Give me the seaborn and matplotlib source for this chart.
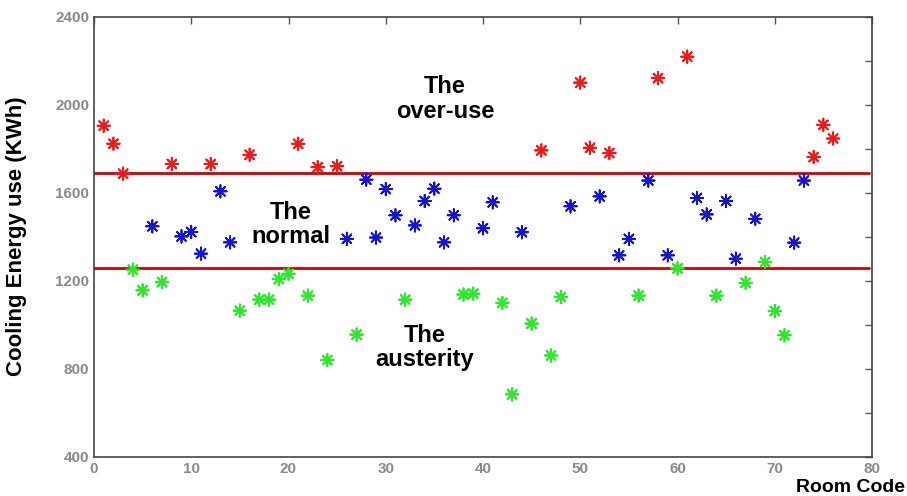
import matplotlib
matplotlib.use("Agg")
import matplotlib.pyplot as plt
import seaborn as sns
import pandas as pd

# ---- data -------------------------------------------------------------
room_code = list(range(1, 77))
energy_kwh = [1904, 1822, 1686, 1250, 1156, 1447, 1193, 1730, 1401, 1421,
              1323, 1730, 1606, 1374, 1064, 1772, 1114, 1114, 1207, 1231,
              1822, 1132, 1716, 839, 1720, 1390, 955, 1659, 1396, 1616,
              1497, 1114, 1451, 1562, 1618, 1374, 1497, 1137, 1141, 1438,
              1556, 1099, 683, 1420, 1005, 1792, 860, 1126, 1538, 2100,
              1804, 1583, 1780, 1315, 1390, 1132, 1655, 2120, 1315, 1256,
              2218, 1576, 1501, 1132, 1562, 1300, 1190, 1481, 1285, 1062,
              952, 1373, 1655, 1762, 1908, 1846]
# group of each room as coloured in the chart: O = over-use, N = normal, A = austerity
room_group = list("OOOAANAONNNONNAOAAAAOAOAONANNNNANNNNNAANNAANAOAANOONONNANONAONNANNANAAANNOOO")
upper_threshold = 1689
lower_threshold = 1256
group_labels = ["The\nover-use", "The\nnormal", "The\nausterity"]
x_ticks = [0, 10, 20, 30, 40, 50, 60, 70, 80]
y_ticks = list(range(400, 2401, 200))

df = pd.DataFrame({"room": room_code, "energy": energy_kwh, "group": room_group})

palette = {"O": "#ff1414", "N": "#1212e6", "A": "#22ee22"}

# ---- figure -------------------------------------------------------------
sns.set_style("white")
plt.rcParams["font.family"] = ["Liberation Sans", "DejaVu Sans"]
plt.rcParams["text.color"] = "black"

fig = plt.figure(figsize=(9.07, 4.96), dpi=100)
ax = fig.add_axes([94 / 907, 1 - 456.7 / 496, 778 / 907, 440.1 / 496])

sns.scatterplot(data=df, x="room", y="energy", hue="group", palette=palette,
                marker=(8, 2, 0), s=80, linewidth=1.3, legend=False, ax=ax,
                zorder=3)

ax.axhline(upper_threshold, xmin=0, xmax=0.996, color="#d40000", lw=2.0, zorder=2)
ax.axhline(lower_threshold, xmin=0, xmax=0.996, color="#d40000", lw=2.0, zorder=2)

ax.set_xlim(0, 80)
ax.set_ylim(400, 2400)
ax.set_xticks(x_ticks)
ax.set_xticklabels([str(t) for t in x_ticks])
ax.set_yticks(y_ticks)
ax.set_yticklabels([str(t) if t % 400 == 0 else "" for t in y_ticks])

ax.tick_params(axis="both", direction="in", length=5, width=1, colors="#555555",
               labelcolor="#8a8a8a", labelsize=11, top=True, right=True)
for lab in ax.get_xticklabels() + ax.get_yticklabels():
    lab.set_fontweight("bold")

for side in ["left", "bottom", "top", "right"]:
    ax.spines[side].set_visible(True)
    ax.spines[side].set_color("#444444")
    ax.spines[side].set_linewidth(1.2)

ax.set_xlabel("Room Code", fontsize=14, fontweight="bold", color="black",
              ha="right", va="center")
ax.xaxis.set_label_coords(1.042, -0.069)
ax.set_ylabel("Cooling Energy use (KWh)", fontsize=16, fontweight="bold",
              color="black", va="center")
ax.yaxis.set_label_coords(-0.099, 0.5)

txt_kw = dict(fontsize=17, fontweight="bold", ha="center", va="center",
              linespacing=1.1, zorder=4, color="black")
ax.text(36.1, 2026, group_labels[0], **txt_kw)
ax.text(20.2, 1455, group_labels[1], **txt_kw)
ax.text(34.0, 896, group_labels[2], **txt_kw)

fig.savefig("out.png", dpi=100)
